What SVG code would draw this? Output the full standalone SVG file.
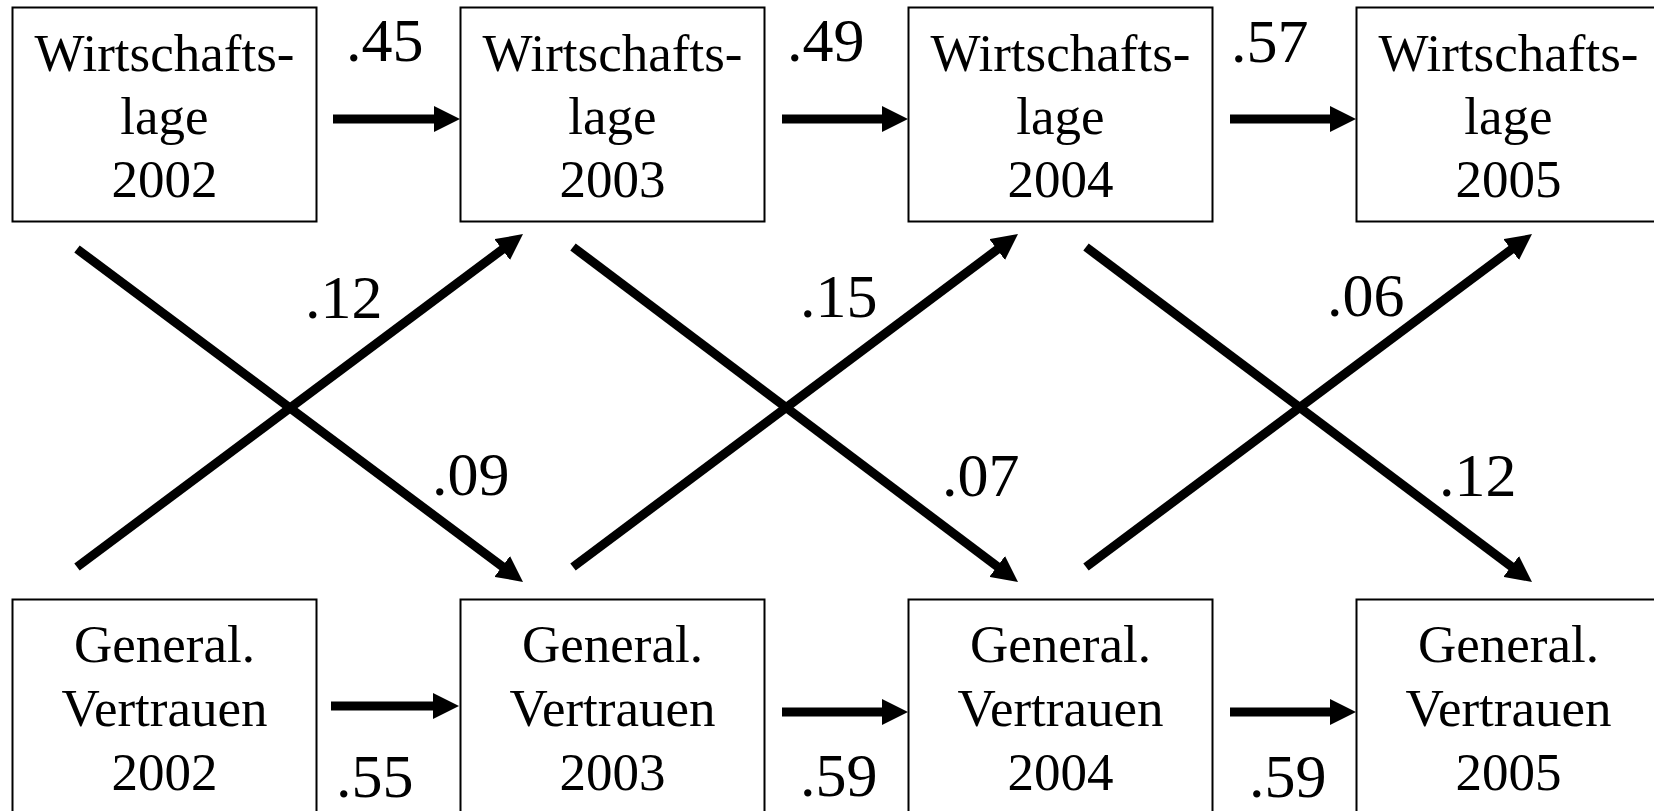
<svg xmlns="http://www.w3.org/2000/svg" width="1654" height="811" viewBox="0 0 1654 811">
<style>
.box{fill:#fff;stroke:#000;stroke-width:2}
.t{font-family:"Liberation Serif","Times New Roman",serif;font-size:53px;fill:#000;text-anchor:middle}
.lbl{font-family:"Liberation Serif","Times New Roman",serif;font-size:62px;fill:#000}
.c{stroke:#000;stroke-width:9;fill:none;marker-end:url(#ah)}
</style>
<defs>
<marker id="ah" markerUnits="userSpaceOnUse" markerWidth="26" markerHeight="26" viewBox="0 -13 26 26" refX="2" refY="0" orient="auto">
<path d="M0,-13 L26,0 L0,13 z" fill="#000"/>
</marker>
</defs>
<rect width="1654" height="811" fill="#fff"/>
<g id="w2002"><rect class="box" x="12.5" y="7.5" width="304" height="214"/><text class="t" x="164.5" y="71">Wirtschafts-</text><text class="t" x="164.5" y="134">lage</text><text class="t" x="164.5" y="197">2002</text></g>
<g id="w2003"><rect class="box" x="460.5" y="7.5" width="304" height="214"/><text class="t" x="612.5" y="71">Wirtschafts-</text><text class="t" x="612.5" y="134">lage</text><text class="t" x="612.5" y="197">2003</text></g>
<g id="w2004"><rect class="box" x="908.5" y="7.5" width="304" height="214"/><text class="t" x="1060.5" y="71">Wirtschafts-</text><text class="t" x="1060.5" y="134">lage</text><text class="t" x="1060.5" y="197">2004</text></g>
<g id="w2005"><rect class="box" x="1356.5" y="7.5" width="304" height="214"/><text class="t" x="1508.5" y="71">Wirtschafts-</text><text class="t" x="1508.5" y="134">lage</text><text class="t" x="1508.5" y="197">2005</text></g>
<g id="v2002"><rect class="box" x="12.5" y="599.5" width="304" height="230"/><text class="t" x="164.5" y="662">General.</text><text class="t" x="164.5" y="726">Vertrauen</text><text class="t" x="164.5" y="790">2002</text></g>
<g id="v2003"><rect class="box" x="460.5" y="599.5" width="304" height="230"/><text class="t" x="612.5" y="662">General.</text><text class="t" x="612.5" y="726">Vertrauen</text><text class="t" x="612.5" y="790">2003</text></g>
<g id="v2004"><rect class="box" x="908.5" y="599.5" width="304" height="230"/><text class="t" x="1060.5" y="662">General.</text><text class="t" x="1060.5" y="726">Vertrauen</text><text class="t" x="1060.5" y="790">2004</text></g>
<g id="v2005"><rect class="box" x="1356.5" y="599.5" width="304" height="230"/><text class="t" x="1508.5" y="662">General.</text><text class="t" x="1508.5" y="726">Vertrauen</text><text class="t" x="1508.5" y="790">2005</text></g>
<g id="connectors">
<line class="c" x1="333" y1="119" x2="436" y2="119"/>
<line class="c" x1="782" y1="119" x2="884" y2="119"/>
<line class="c" x1="1230" y1="119" x2="1332" y2="119"/>
<line class="c" x1="331" y1="706" x2="435" y2="706"/>
<line class="c" x1="782" y1="712" x2="884" y2="712"/>
<line class="c" x1="1230" y1="712" x2="1332" y2="712"/>
<line class="c" x1="77" y1="249" x2="503.8" y2="567.6"/>
<line class="c" x1="77" y1="567" x2="503.8" y2="248.4"/>
<line class="c" x1="573" y1="247" x2="998.8" y2="567.6"/>
<line class="c" x1="573" y1="567" x2="998.8" y2="248.4"/>
<line class="c" x1="1086" y1="247" x2="1512.8" y2="567.6"/>
<line class="c" x1="1086" y1="567" x2="1512.8" y2="248.4"/>
</g>
<g id="labels">
<text class="lbl" x="346" y="61">.45</text>
<text class="lbl" x="787" y="61">.49</text>
<text class="lbl" x="1231" y="62">.57</text>
<text class="lbl" x="305" y="318">.12</text>
<text class="lbl" x="800" y="317">.15</text>
<text class="lbl" x="1327" y="316">.06</text>
<text class="lbl" x="432" y="495">.09</text>
<text class="lbl" x="942" y="496">.07</text>
<text class="lbl" x="1439" y="496">.12</text>
<text class="lbl" x="336" y="797">.55</text>
<text class="lbl" x="800" y="796">.59</text>
<text class="lbl" x="1249" y="797">.59</text>
</g>
</svg>
